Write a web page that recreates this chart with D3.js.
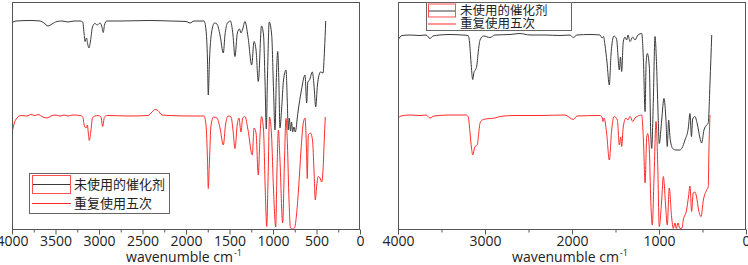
<!DOCTYPE html>
<html><head><meta charset="utf-8">
<script src="https://cdn.jsdelivr.net/npm/d3@7"></script>
<style>body{margin:0;background:#fff}svg{display:block}</style>
</head><body><svg id="c" width="748" height="265"></svg>
<script>
// ---------- DATA (wavenumber cm-1, transmittance a.u. with stacking offset) ----------
const seriesNames = ["未使用的催化剂", "重复使用五次"];
const seriesColors = ["#3a3a3a", "#ff2b2b"];

const leftUnused = [[4000,207],[3954,208.5],[3793,209],[3678,208.5],[3632,206.5],[3586,203.5],[3540,205.5],[3483,208],[3425,208.5],[3356,207.5],[3287,208.5],[3218,208.5],[3187,207.5],[3172,196.5],[3161,188],[3144,191.5],[3130,185.5],[3115,181.5],[3098,188.5],[3075,202.5],[3046,206],[3020,204.5],[2989,206.5],[2969,203.5],[2951,197],[2937,204.5],[2911,208.5],[2759,208.5],[2414,209],[2184,208.5],[2000,208],[1954,206.5],[1908,208.5],[1793,208.5],[1770,199.5],[1753,169.5],[1744,134.5],[1730,169.5],[1707,196.5],[1672,206.5],[1644,205.5],[1609,194.5],[1571,176.5],[1552,194.5],[1523,206.5],[1489,208.5],[1460,194.5],[1437,173],[1410,196.5],[1385,200.5],[1368,196.5],[1348,200.5],[1322,208],[1287,192.5],[1245,164.5],[1218,188],[1195,179.5],[1169,148],[1132,203.5],[1109,194.5],[1092,149.5],[1077,100.5],[1063,154.5],[1043,207.5],[1015,194.5],[994,139.5],[977,99.5],[962,149.5],[946,178],[933,149.5],[920,101.5],[902,119.5],[879,149.5],[851,159.5],[836,129.5],[825,99.5],[813,111.5],[799,98.5],[787,107.5],[774,97.5],[759,102.5],[744,97.5],[713,117.5],[673,139.5],[632,154.5],[613,126.5],[600,147.5],[580,149.5],[548,157.5],[529,144.5],[509,122.5],[489,144.5],[454,157.5],[425,156.5],[408,179.5],[394,208.5]];

const leftReused = [[4000,96.5],[3977,105.5],[3943,111.5],[3897,114],[3828,113.5],[3782,115],[3736,114],[3701,115],[3644,112.5],[3598,111.5],[3552,113.5],[3506,114.5],[3448,113.5],[3402,114.5],[3356,113.5],[3299,114.5],[3218,114],[3187,112.5],[3167,103.5],[3149,101.5],[3134,104.5],[3123,96.5],[3112,89],[3095,97.5],[3075,111.5],[3046,113.5],[3011,114],[2977,112.5],[2958,103],[2937,112.5],[2908,114],[2644,113.5],[2437,114],[2391,117.5],[2356,120],[2322,119],[2276,114.5],[2184,114],[1954,113.5],[1793,113.5],[1770,104.5],[1753,69.5],[1744,41],[1730,69.5],[1713,103.5],[1684,112.5],[1644,111.5],[1609,101.5],[1571,84.5],[1546,104.5],[1517,113.5],[1482,112.5],[1460,99.5],[1437,81],[1410,105.5],[1391,111.5],[1368,97.5],[1348,111.5],[1322,113],[1287,99.5],[1238,74.5],[1218,101.5],[1195,96.5],[1169,54.5],[1149,94.5],[1132,113],[1109,99.5],[1089,39.5],[1072,3],[1057,49.5],[1040,112.5],[1017,94.5],[994,39.5],[969,2.5],[954,59.5],[938,99.5],[920,69.5],[889,6.5],[868,69.5],[851,111],[834,84.5],[816,29.5],[799,1.5],[776,0.5],[753,1.5],[730,14.5],[707,39.5],[678,79.5],[655,104.5],[632,111.5],[615,79.5],[606,51],[594,94.5],[569,96.5],[546,89.5],[529,59.5],[514,29.5],[497,44.5],[480,53],[460,51.5],[440,47.5],[425,59.5],[411,89.5],[399,112.5]];

const rightUnused = [[3997,189.5],[3977,192.5],[3954,194],[3862,194.5],[3747,194],[3678,194.5],[3632,191],[3598,193.5],[3517,194.5],[3402,195],[3264,194.5],[3195,194],[3178,187.5],[3161,167.5],[3141,150],[3126,157.5],[3112,159.5],[3095,163.5],[3075,179.5],[3057,189.5],[3017,193.5],[2943,192],[2885,194.5],[2713,195],[2598,196],[2483,194.5],[2310,194.5],[2138,194],[2023,194.5],[1985,192],[1943,194.5],[1793,195],[1678,194.5],[1655,191.5],[1638,193],[1621,184.5],[1598,167.5],[1571,144.5],[1552,174.5],[1529,191.5],[1517,193.5],[1488,190.5],[1456,159.5],[1443,172.5],[1429,158],[1411,187.5],[1391,192.5],[1372,189.5],[1356,194.5],[1333,188],[1302,192.5],[1276,189.5],[1241,194.5],[1199,196],[1179,169.5],[1160,118],[1148,166.5],[1134,176],[1111,162.5],[1095,96.5],[1084,81],[1065,129.5],[1046,193],[1027,162.5],[1012,119.5],[997,86],[969,109.5],[943,131],[920,109.5],[905,83],[889,109.5],[874,92.5],[843,81],[805,79.5],[759,79.5],[736,81.5],[701,89.5],[663,101.5],[644,116],[627,93],[613,110.5],[587,113],[560,105.5],[529,91.5],[510,86.5],[483,99.5],[452,104.5],[434,106.5],[414,146.5],[394,194.5]];

const rightReused = [[3997,111.5],[3966,113.5],[3862,114.5],[3747,114],[3678,114.5],[3632,111.5],[3586,113.5],[3402,114.5],[3218,114.5],[3192,112.5],[3172,96.5],[3155,81.5],[3141,74.5],[3126,79.5],[3115,83],[3089,84.5],[3072,96.5],[3057,106.5],[3020,110],[2943,111],[2885,111.5],[2828,113],[2655,114],[2368,114],[2081,114.5],[1985,110],[1943,113.5],[1678,114],[1655,112.5],[1644,108],[1632,111.5],[1602,96.5],[1571,69.5],[1544,99.5],[1517,113],[1479,109.5],[1456,84.5],[1440,92.5],[1429,83],[1411,102.5],[1379,111.5],[1356,109.5],[1333,113],[1302,108],[1276,111.5],[1250,113],[1199,114.5],[1179,89.5],[1160,46.5],[1141,92.5],[1130,96],[1111,79.5],[1095,29.5],[1077,4.5],[1057,52.5],[1034,108],[1014,62.5],[997,3],[969,29.5],[950,53],[923,22.5],[905,4.5],[882,41.5],[855,12.5],[836,1],[816,6.5],[801,1],[782,6.5],[759,1],[736,1.5],[721,9.5],[683,19.5],[660,33.5],[644,43.5],[625,18],[607,36.5],[587,37.5],[568,32.5],[545,19.5],[517,13],[490,29.5],[452,39.5],[434,42.5],[426,79.5],[414,114.5]];

const leftMajorTicks = [4000,3500,3000,2500,2000,1500,1000,500,0];
const leftMinorTicks = [3750,3250,2750,2250,1750,1250,750,250];
const rightMajorTicks = [4000,3000,2000,1000,0];
const rightMinorTicks = [3500,2500,1500,500];
const axisTitle = "wavenumble cm";
const axisTitleSup = "-1";

// ---------- DRAW ----------
const svg = d3.select("#c");
const yTop = 2, yBot = 229.5;
const y = d3.scaleLinear().domain([0, 227.5]).range([yBot, yTop]);

function panel(x0, x1, data, major, minor, leg) {
  const x = d3.scaleLinear().domain([4000, 0]).range([x0, x1]);
  const g = svg.append("g");
  const clipId = "clip" + Math.round(x0);
  svg.append("clipPath").attr("id", clipId).append("rect")
    .attr("x", x0).attr("y", yTop).attr("width", x1 - x0).attr("height", yBot - yTop);

  const line = d3.line().x(d => x(d[0])).y(d => y(d[1])).curve(d3.curveMonotoneX);
  data.forEach((s, i) => {
    g.append("path").attr("d", line(s)).attr("fill", "none")
      .attr("stroke", seriesColors[i]).attr("stroke-width", 1)
      .attr("stroke-linejoin", "round").attr("clip-path", `url(#${clipId})`);
  });

  // frame
  g.append("rect").attr("x", x0 + 0.5).attr("y", yTop + 0.5)
    .attr("width", x1 - x0 - 1).attr("height", yBot - yTop - 0.5)
    .attr("fill", "none").attr("stroke", "#555").attr("stroke-width", 1);

  const axMaj = d3.axisBottom(x).tickValues(major).tickSize(5).tickPadding(1.5).tickFormat(d3.format("d"));
  const axMin = d3.axisBottom(x).tickValues(minor).tickSize(3).tickFormat("");
  const ga = g.append("g").attr("transform", `translate(0,${yBot})`).call(axMaj);
  const gm = g.append("g").attr("transform", `translate(0,${yBot})`).call(axMin);
  [ga, gm].forEach(a => {
    a.select(".domain").remove();
    a.selectAll("line").attr("stroke", "#555");
  });
  ga.selectAll("text").attr("font-family", "'Open Sans', sans-serif").attr("font-size", 14).attr("fill", "#222");

  const t = g.append("text").attr("x", (x0 + x1) / 2 - 2).attr("y", 262)
    .attr("text-anchor", "middle").attr("font-family", "'Open Sans', sans-serif")
    .attr("font-size", 14).attr("fill", "#222");
  t.append("tspan").text(axisTitle);
  t.append("tspan").attr("font-size", 9).attr("dy", -6).attr("dx", 1).text(axisTitleSup);

  // legend
  const lg = g.append("g");
  lg.append("rect").attr("x", leg.x + 0.5).attr("y", leg.y + 0.5).attr("width", leg.w).attr("height", leg.h)
    .attr("fill", "#fff").attr("stroke", "#666").attr("stroke-width", 1);
  leg.rows.forEach((ry, i) => {
    lg.append("line").attr("x1", leg.sx0).attr("x2", leg.sx1).attr("y1", ry + 0.5).attr("y2", ry + 0.5)
      .attr("stroke", seriesColors[i]).attr("stroke-width", 1);
    lg.append("text").attr("x", leg.tx).attr("y", ry).attr("dy", "0.36em")
      .attr("font-family", "'Noto Sans CJK SC', sans-serif").attr("font-size", leg.fs)
      .attr("fill", "#222").text(seriesNames[i]);
  });
  lg.append("rect").attr("x", leg.sx0 + 0.5).attr("y", leg.hy + 0.5)
    .attr("width", leg.sx1 - leg.sx0 - 1).attr("height", leg.hh)
    .attr("fill", "none").attr("stroke", "#ff5050").attr("stroke-width", 1);
}

panel(12, 360, [leftUnused, leftReused], leftMajorTicks, leftMinorTicks,
  {x: 29, y: 173, w: 140, h: 40, rows: [184, 203], sx0: 32, sx1: 71, tx: 74, hy: 175, hh: 18, fs: 13});
panel(398, 746, [rightUnused, rightReused], rightMajorTicks, rightMinorTicks,
  {x: 426, y: 2, w: 145, h: 28, rows: [10.5, 23.5], sx0: 428, sx1: 456, tx: 460, hy: 3.5, hh: 13, fs: 12.5});
</script></body></html>
